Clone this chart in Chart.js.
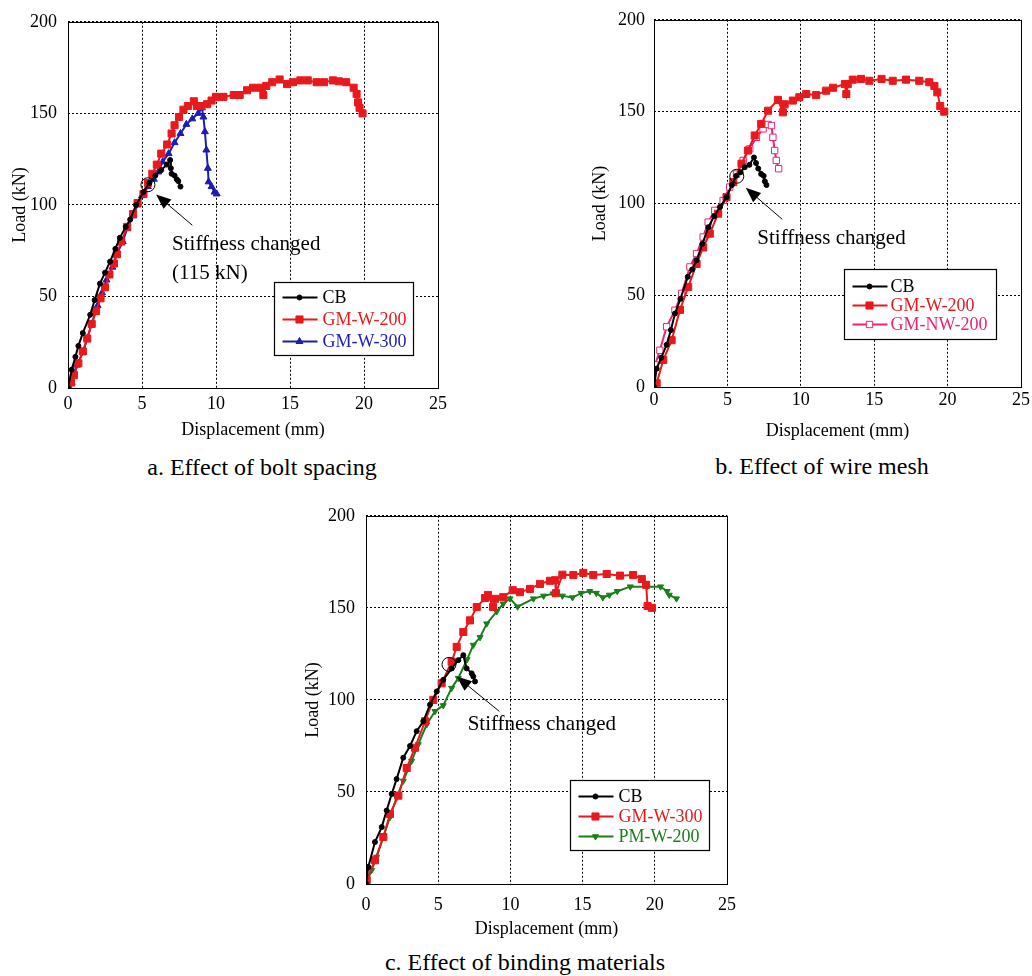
<!DOCTYPE html>
<html>
<head>
<meta charset="utf-8">
<script src="https://cdn.jsdelivr.net/npm/chart.js@4.4.1/dist/chart.umd.min.js"></script>
<style>
  body { margin: 0; background: #fff; width: 1032px; height: 976px; position: relative; overflow: hidden; font-family: "Liberation Serif", serif; }
  canvas { position: absolute; }
  .cap { position: absolute; width: 420px; text-align: center; font-size: 24px; line-height: 28px; color: #000; }
</style>
</head>
<body>
<canvas id="ca" width="460" height="445" style="left:0;top:0"></canvas>
<canvas id="cb" width="446" height="445" style="left:586px;top:0"></canvas>
<canvas id="cc" width="460" height="450" style="left:298px;top:494px"></canvas>
<div class="cap" style="left:52px;top:453px">a. Effect of bolt spacing</div>
<div class="cap" style="left:612px;top:452px">b. Effect of wire mesh</div>
<div class="cap" style="left:315px;top:948px">c. Effect of binding materials</div>
<script>
// load-displacement curves, [displacement mm, load kN]
const xTicks = [0, 5, 10, 15, 20, 25];
const yTicks = [0, 50, 100, 150, 200];

// a. bolt spacing
const cbA = [[0,0],[0.25,10],[0.5,17],[0.7,23],[1.0,30],[1.5,40],[1.8,48],[2.16,57],[2.5,63],[2.84,69],[3.2,76],[3.5,82],[3.9,88],[4.2,92],[4.6,100],[5.1,107],[5.5,112],[5.9,116],[6.3,119],[6.67,122],[6.9,124.5],[6.95,120],[7.0,117],[7.2,116],[7.35,114],[7.45,113],[7.6,110]];
const gmW200A = [[0,0],[0.2,3],[0.4,7],[0.7,13.5],[1.0,20],[1.3,27],[1.6,35],[1.9,42],[2.2,49],[2.5,55],[2.8,62],[3.1,68],[3.3,73],[3.6,80],[4.0,88],[4.4,95],[4.7,101],[5.1,106],[5.4,112],[5.7,117],[6.0,122],[6.3,128],[6.7,133],[7.0,139],[7.2,143.5],[7.5,148],[7.8,152],[8.1,154],[8.5,156.6],[8.7,154],[9.0,154],[9.4,155],[9.7,157],[10.0,159],[10.5,159],[11.2,160],[11.6,160],[12.1,162.6],[12.5,164],[13.0,164],[13.2,160],[13.4,165],[13.8,167],[14.3,168.5],[14.8,166],[15.2,167],[15.7,168],[16.2,168],[16.8,167],[17.3,167],[17.9,168],[18.3,167.5],[18.8,167],[19.3,164],[19.5,160.6],[19.6,156],[19.7,153],[19.9,150]];
const gmW300A = [[0,0],[0.25,3],[0.6,12.5],[1.03,19.7],[1.3,27],[1.6,35],[2.0,45],[2.3,52],[2.6,59],[3.0,66],[3.3,73],[3.7,80],[4.0,87],[4.4,94],[4.7,100],[5.0,105],[5.4,110],[5.8,114],[6.1,118],[6.4,123.6],[6.8,128],[7.2,134],[7.6,139],[8.0,144],[8.4,147],[8.8,150],[9.05,153],[9.15,148],[9.25,140],[9.35,130],[9.45,120],[9.5,112.6],[9.7,110],[9.9,107],[10.05,106]];

// b. wire mesh
const cbB = [[0,0],[0.18,10],[0.5,16],[0.86,23],[1.15,31],[1.43,40],[1.8,48],[2.3,60],[2.6,64],[2.9,69],[3.3,78],[3.7,87],[4.1,93],[4.5,98],[4.94,103.4],[5.3,110],[5.6,115],[5.9,117],[6.18,119.7],[6.5,121],[6.81,125],[6.95,122],[7.1,119],[7.3,116],[7.47,115],[7.55,112],[7.66,110]];
const gmW200B = [[0,0],[0.18,2],[0.63,14.7],[1.2,25.5],[1.77,42],[2.33,54.5],[2.9,67],[3.35,76],[3.8,83.5],[4.37,94.4],[4.94,103.4],[5.4,111.6],[5.96,121.6],[6.4,128.8],[6.86,137],[7.3,143.3],[7.77,150.5],[8.44,156.4],[8.78,149.6],[8.9,154],[9.46,156],[9.9,157.8],[10.37,159.6],[11.05,159],[11.73,161.4],[12.2,163],[13.0,165],[13.1,159.6],[13.2,165],[13.54,167.4],[14.1,167.8],[14.67,166.8],[15.5,167.8],[16.26,166.8],[17.17,167.4],[18.07,166.8],[18.75,166],[19.1,164],[19.3,160.5],[19.5,153],[19.77,150]];
const gmNW200B = [[0,0],[0.07,12],[0.4,20],[0.86,32.8],[1.43,41.8],[1.88,51],[2.45,65.4],[2.9,72.7],[3.35,81.7],[3.69,89.8],[4.14,96.2],[4.71,101.6],[5.16,108.9],[5.62,116],[6.07,123.4],[6.52,129.7],[6.98,136],[7.43,140.6],[7.77,143],[8.0,142.4],[8.1,136],[8.22,128.8],[8.33,123.4],[8.49,118.9]];

// c. binding materials
const cbC = [[0,0],[0.16,9.3],[0.62,22.8],[1.09,30.9],[1.43,39.9],[1.78,48.9],[2.12,57],[2.58,68.6],[3.05,75],[3.51,83],[3.97,88.4],[4.43,97.4],[4.9,104.6],[5.35,110.9],[5.93,117.1],[6.39,121.6],[6.74,124.3],[6.97,117.1],[7.32,114.4],[7.43,112.7],[7.55,110]];
const gmW300C = [[0,0],[0.05,2],[0.62,12.9],[1.2,25.5],[1.66,38],[2.24,48],[2.82,63],[3.39,74],[4.09,88.4],[4.66,100],[5.24,109],[5.93,120.8],[6.28,128.8],[6.74,136.9],[7.2,143.2],[7.67,150.4],[8.24,155.3],[8.45,157],[8.8,150.5],[8.93,154.9],[9.5,155.8],[10.16,159.6],[10.66,158.5],[11.36,160.3],[12.05,163],[12.74,164.7],[13.1,165],[13.15,158],[13.6,168],[14.36,167.8],[15.05,169],[15.74,167.8],[16.67,168.4],[17.59,167.5],[18.5,167.8],[19.1,165.7],[19.4,162.5],[19.5,151],[19.8,150]];
const pmW200C = [[0,0],[0.39,7.5],[0.74,14.7],[1.2,25.5],[1.66,36.3],[2.12,47],[2.58,56],[3.16,66.8],[3.62,75.8],[4.2,86.6],[4.78,93.8],[5.35,97],[5.93,106.4],[6.39,111.8],[7.0,122],[7.43,129.8],[7.9,134],[8.36,141.4],[9.05,148],[9.5,152.2],[9.97,155],[10.5,150.6],[11.6,155],[12.3,156.5],[12.95,157.7],[13.6,156.5],[14.3,155.6],[14.9,158],[15.5,159],[15.95,158],[16.4,155.6],[16.85,157],[17.4,159],[18.3,161.5],[19.45,161.5],[20.4,161.5],[20.85,159],[21.0,157],[21.5,155]];

const BLACK = '#000000', RED = '#e8191c', BLUE = '#1c1cb4', PINK = '#ee2277', GREEN = '#1a7f1a';
const FONT = '"Liberation Serif", "Times New Roman", serif';

Chart.defaults.font.family = FONT;
Chart.defaults.font.size = 18;
Chart.defaults.color = '#000';

function pts(arr) { return arr.map(p => ({ x: p[0], y: p[1] })); }

function series(label, arr, color, style, radius, fill, rot) {
  return {
    label, data: pts(arr), showLine: true, borderColor: color, backgroundColor: color,
    borderWidth: 2, pointStyle: style, pointRadius: radius, pointHoverRadius: radius,
    pointBorderColor: color, pointBackgroundColor: fill || color, pointBorderWidth: 1,
    pointRotation: rot || 0, tension: 0
  };
}

function marker(ctx, style, r, rot, x, y) {
  ctx.beginPath();
  if (style === 'circle') {
    ctx.arc(x, y, r, 0, Math.PI * 2);
  } else if (style === 'rect') {
    const s = r * Math.SQRT1_2;
    ctx.rect(x - s, y - s, 2 * s, 2 * s);
  } else {
    const dir = rot ? -1 : 1;
    ctx.moveTo(x, y - dir * r);
    ctx.lineTo(x + r * 0.866, y + dir * r * 0.5);
    ctx.lineTo(x - r * 0.866, y + dir * r * 0.5);
    ctx.closePath();
  }
  ctx.fill();
  ctx.stroke();
}

const decor = {
  id: 'decor',
  afterDatasetsDraw(chart, args, o) {
    const { ctx, chartArea: a, scales: { x, y } } = chart;
    const px = p => [x.getPixelForValue(p[0]), y.getPixelForValue(p[1])];
    ctx.save();
    ctx.setLineDash([]);
    ctx.strokeStyle = '#000';
    ctx.fillStyle = '#000';
    ctx.lineWidth = 1;
    ctx.strokeRect(Math.round(a.left) + 0.5, Math.round(a.top) + 0.5, Math.round(a.width), Math.round(a.height));

    // stiffness change note
    const n = o.note;
    const [cx, cy] = px(n.circle);
    ctx.beginPath(); ctx.arc(cx, cy, 7, 0, Math.PI * 2); ctx.stroke();
    const [tx, ty] = px(n.tip), [sx, sy] = px(n.tail);
    const ang = Math.atan2(ty - sy, tx - sx), c = Math.cos(ang), s = Math.sin(ang);
    ctx.beginPath(); ctx.moveTo(sx, sy); ctx.lineTo(tx - 12 * c, ty - 12 * s); ctx.stroke();
    ctx.beginPath();
    ctx.moveTo(tx, ty);
    ctx.lineTo(tx - 15 * c + 6 * s, ty - 15 * s - 6 * c);
    ctx.lineTo(tx - 15 * c - 6 * s, ty - 15 * s + 6 * c);
    ctx.closePath(); ctx.fill();
    ctx.font = '21px ' + FONT;
    ctx.textAlign = 'left';
    ctx.textBaseline = 'middle';
    n.lines.forEach((t, i) => {
      const [lx, ly] = px([n.at[0], n.at[1] - i * n.step]);
      ctx.fillText(t, lx, ly);
    });

    // boxed legend
    const L = o.legend;
    const bx = Math.round(a.left + L.dx) + 0.5, by = Math.round(a.top + L.dy) + 0.5;
    ctx.fillStyle = '#fff';
    ctx.fillRect(bx, by, L.w, L.h);
    ctx.strokeStyle = '#000';
    ctx.lineWidth = 1.2;
    ctx.strokeRect(bx, by, L.w, L.h);
    ctx.font = '18px ' + FONT;
    chart.data.datasets.forEach((ds, i) => {
      const ry = by + L.row0 + i * L.gap;
      ctx.strokeStyle = ds.borderColor;
      ctx.lineWidth = 2;
      ctx.beginPath(); ctx.moveTo(bx + 8, ry); ctx.lineTo(bx + 43, ry); ctx.stroke();
      ctx.lineWidth = 1;
      ctx.fillStyle = ds.pointBackgroundColor;
      marker(ctx, ds.pointStyle, ds.pointRadius, ds.pointRotation, bx + 25, ry);
      ctx.fillStyle = ds.borderColor;
      ctx.fillText(ds.label, bx + L.tx, ry + 1);
    });
    ctx.restore();
  }
};

function makeChart(id, datasets, g, note, legend) {
  return new Chart(document.getElementById(id), {
    type: 'scatter',
    data: { datasets },
    options: {
      responsive: false,
      animation: false,
      events: [],
      layout: { padding: { top: 19, right: g.right, left: 0, bottom: 0 } },
      plugins: { legend: { display: false }, tooltip: { enabled: false }, decor: { note, legend } },
      scales: {
        x: {
          type: 'linear', min: 0, max: 25,
          afterBuildTicks: s => { s.ticks = xTicks.map(v => ({ value: v })); },
          afterFit: s => { s.height = g.xH; },
          ticks: { padding: g.xTickPad, color: '#000' },
          grid: { color: '#000', lineWidth: 1, drawTicks: false },
          border: { display: false, dash: [2, 2] },
          title: { display: true, text: 'Displacement (mm)', color: '#000', padding: { top: 0, bottom: g.xTitlePad } }
        },
        y: {
          type: 'linear', min: 0, max: 200,
          afterBuildTicks: s => { s.ticks = yTicks.map(v => ({ value: v })); },
          afterFit: s => { s.width = 68; },
          ticks: { padding: g.yTickPad, color: '#000' },
          grid: { color: '#000', lineWidth: 1, drawTicks: false },
          border: { display: false, dash: [2, 2] },
          title: { display: true, text: 'Load (kN)', color: '#000', padding: { top: g.yTitlePad, bottom: 0 } }
        }
      }
    },
    plugins: [decor]
  });
}

makeChart('ca', [
  series('CB', cbA, BLACK, 'circle', 2.5),
  series('GM-W-200', gmW200A, RED, 'rect', 5),
  series('GM-W-300', gmW300A, BLUE, 'triangle', 4)
], { right: 22, xH: 57, xTickPad: 5, xTitlePad: 4, yTickPad: 11, yTitlePad: 9 },
{ circle: [5.4, 111], tip: [5.95, 105.7], tail: [8.4, 88.9], at: [7.03, 78.6], step: 16.3, lines: ['Stiffness changed', '(115 kN)'] },
{ dx: 206, dy: 260, w: 139, h: 73, row0: 15, gap: 22, tx: 48 });

makeChart('cb', [
  series('CB', cbB, BLACK, 'circle', 2.5),
  series('GM-W-200', gmW200B, RED, 'rect', 5),
  series('GM-NW-200', gmNW200B, PINK, 'rect', 4.5, '#fff')
], { right: 10, xH: 58, xTickPad: 2, xTitlePad: 3, yTickPad: 9, yTitlePad: 3 },
{ circle: [5.64, 114.8], tip: [6.25, 108.5], tail: [8.74, 91.3], at: [7.04, 80.8], step: 0, lines: ['Stiffness changed'] },
{ dx: 190, dy: 249, w: 152, h: 70, row0: 17, gap: 19, tx: 46 });

makeChart('cc', [
  series('CB', cbC, BLACK, 'circle', 2.5),
  series('GM-W-300', gmW300C, RED, 'rect', 5),
  series('PM-W-200', pmW200C, GREEN, 'triangle', 3.5, null, 180)
], { right: 31, xH: 60, xTickPad: 10, xTitlePad: 4, yTickPad: 11, yTitlePad: 4 },
{ circle: [5.75, 119.3], tip: [6.28, 112.7], tail: [9.23, 93.8], at: [7.04, 86.6], step: 0, lines: ['Stiffness changed'] },
{ dx: 204, dy: 264, w: 139, h: 70, row0: 16, gap: 20, tx: 48 });
</script>
</body>
</html>
